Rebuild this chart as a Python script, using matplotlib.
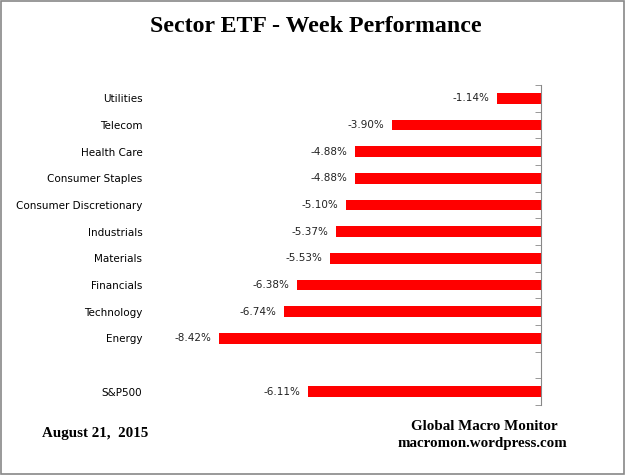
import matplotlib
matplotlib.use("Agg")
import matplotlib.pyplot as plt
from matplotlib.patches import Rectangle

# --- DATA ---
sectors = ["Utilities", "Telecom", "Health Care", "Consumer Staples",
           "Consumer Discretionary", "Industrials", "Materials", "Financials",
           "Technology", "Energy", "", "S&P500"]
returns = [-1.14, -3.90, -4.88, -4.88, -5.10, -5.37, -5.53, -6.38, -6.74, -8.42, None, -6.11]

fig = plt.figure(figsize=(6.25, 4.75), dpi=100)
ax = fig.add_axes([159 / 625, 70 / 475, 382 / 625, 320 / 475])

# bars (skip the blank spacer row)
for i, v in enumerate(returns):
    if v is None:
        continue
    ax.barh(i, v, height=0.4, color="#ff0000")
    ax.text(v - 0.2, i, f"{v:.2f}%", ha="right", va="center",
            fontsize=7.5, family="DejaVu Sans", color="#222222")

ax.set_xlim(-10, 0)
ax.set_ylim(len(sectors) - 0.5, -0.5)

ax.set_yticks(range(len(sectors)))
ax.set_yticklabels(sectors, fontsize=7.5, family="DejaVu Sans")
ax.set_yticks([i - 0.5 for i in range(len(sectors) + 1)], minor=True)
ax.tick_params(axis="y", which="major", length=0, pad=12)
ax.tick_params(axis="y", which="minor", left=False, right=True,
               direction="in", length=4, color="#888888")
ax.set_xticks([])

for s in ["left", "top", "bottom"]:
    ax.spines[s].set_visible(False)
ax.spines["right"].set_color("#888888")

# title and footer text
fig.text(316 / 625, 1 - 26 / 475, "Sector ETF - Week Performance", ha="center", va="center",
         fontsize=17.2, fontweight="bold", family="Liberation Serif")
fig.text(42 / 625, 1 - 433 / 475, "August 21,  2015", ha="left", va="center",
         fontsize=10.8, fontweight="bold", family="Liberation Serif")
fig.text(484 / 625, 1 - 427 / 475, "Global Macro Monitor", ha="center", va="center",
         fontsize=10.8, fontweight="bold", family="Liberation Serif")
fig.text(482 / 625, 1 - 443 / 475, "macromon.wordpress.com", ha="center", va="center",
         fontsize=10.8, fontweight="bold", family="Liberation Serif")

# outer border of the chart
fig.patches.append(Rectangle((0.001, 0.002), 0.997, 0.996, transform=fig.transFigure,
                             fill=False, edgecolor="#888888", linewidth=1.2))

fig.savefig("out.png", dpi=100)
